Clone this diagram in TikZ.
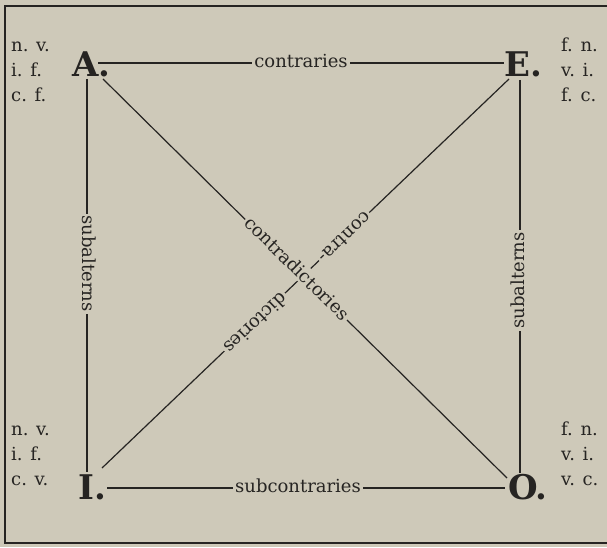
\documentclass[tikz,border=0pt]{standalone}
\usepackage{fontspec}
\newfontfamily\labfont{DejaVu Serif}
\definecolor{paper}{RGB}{206,201,185}
\definecolor{ink}{RGB}{38,36,34}
\tikzset{
  lbl/.style={font=\labfont\fontsize{18}{22}\selectfont, text=ink, fill=paper, inner sep=2pt, anchor=mid},
  big/.style={font=\fontsize{34}{34}\selectfont\bfseries, text=ink, inner sep=0pt, anchor=base west},
  corner/.style={font=\labfont\fontsize{18}{25}\selectfont, text=ink, inner sep=0pt, anchor=base west},
  edge/.style={draw=ink, line width=1.2pt},
  frame/.style={draw=ink, line width=1.6pt},
}
\newcommand{\crn}[1]{\begin{tabular}[t]{@{}l@{}}#1\end{tabular}}
\begin{document}
\labfont\fontsize{18}{22}\selectfont
\begin{tikzpicture}[x=1pt,y=1pt]
\fill[paper] (0,0) rectangle (607,547);
\useasboundingbox (0,0) rectangle (607,547);
% frame
\draw[frame] (607,541) -- (5,541) -- (5,4) -- (607,4);
% letters
\node[big] (A) at (72,470) {A.};
\node[big] (E) at (504,470) {E.};
\node[big] (I) at (78,48) {I.};
\node[big] (O) at (508,48) {O.};
% corner labels
\node[corner] (tl) at (11,495) {\crn{n. v.\\ i. f.\\ c. f.}};
\node[corner] (tr) at (561,495) {\crn{f. n.\\ v. i.\\ f. c.}};
\node[corner] (bl) at (11,112) {\crn{n. v.\\ i. f.\\ c. v.}};
\node[corner] (br) at (561,112) {\crn{f. n.\\ v. i.\\ v. c.}};
% line end points
\coordinate (a1) at (98,484);
\coordinate (e1) at (504,484);
\coordinate (a2) at (87,468);
\coordinate (i2) at (87,75);
\coordinate (e2) at (520,467);
\coordinate (o2) at (520,74);
\coordinate (i3) at (107,59);
\coordinate (o3) at (505,59);
\coordinate (a4) at (103,468);
\coordinate (o4) at (507,69);
\coordinate (e5) at (509,468);
\coordinate (i5) at (102,79);
% connectors
\draw[edge] (a1) -- node[lbl, pos=0.5] (c1) {contraries} (e1);
\draw[edge] (a2) -- node[lbl, pos=0.47, rotate=-90] (c2) {subalterns} (i2);
\draw[edge] (e2) -- node[lbl, pos=0.51, rotate=90] (c3) {subalterns} (o2);
\draw[edge] (i3) -- node[lbl, pos=0.48] (c4) {subcontraries} (o3);
\draw[edge] (e5) -- node[lbl, pos=0.405, sloped, allow upside down] (c5) {contra-}
                    node[lbl, pos=0.625, sloped, allow upside down] (c6) {dictories} (i5);
\draw[edge] (a4) -- node[lbl, pos=0.478, sloped] (c7) {contradictories} (o4);
\end{tikzpicture}
\end{document}
